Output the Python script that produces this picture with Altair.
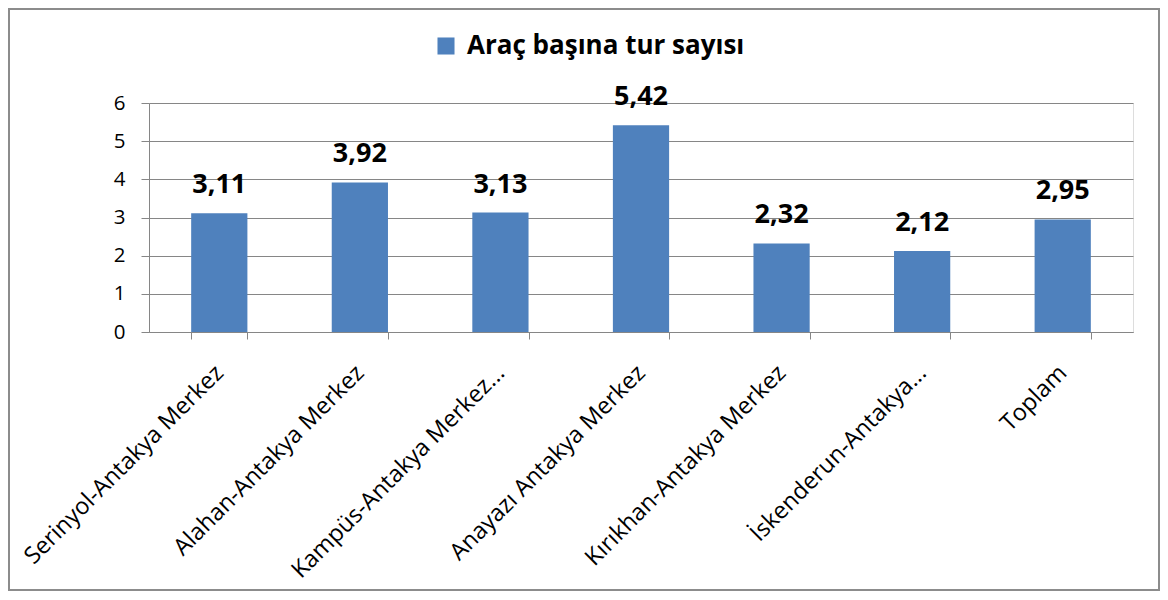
import altair as alt
import pandas as pd

categories = [
    "Serinyol-Antakya Merkez",
    "Alahan-Antakya Merkez",
    "Kampüs-Antakya Merkez...",
    "Anayazı Antakya Merkez",
    "Kırıkhan-Antakya Merkez",
    "İskenderun-Antakya...",
    "Toplam",
]
values = [3.11, 3.92, 3.13, 5.42, 2.32, 2.12, 2.95]
labels = ["3,11", "3,92", "3,13", "5,42", "2,32", "2,12", "2,95"]
series_name = "Araç başına tur sayısı"
y_ticks = [0, 1, 2, 3, 4, 5, 6]

df = pd.DataFrame({"cat": categories, "val": values, "lab": labels, "series": series_name})

FONT = "Open Sans"
W, H = 984, 229
PL, PT, PR, PB = 141, 95, 27, 259

x = alt.X("cat:N", sort=categories, title=None,
          scale=alt.Scale(paddingInner=0.6, paddingOuter=0.3),
          axis=alt.Axis(labelAngle=-45, labelAlign="right", labelBaseline="middle",
                        labelFontSize=23.5, labelColor="black", labelLimit=0,
                        labelPadding=30, tickBand="extent", tickSize=7,
                        tickColor="#868686", domainColor="#868686", grid=False,
                        labelFont=FONT))

bars = alt.Chart(df).mark_bar(color="#4F81BD").encode(
    x=x,
    y=alt.Y("val:Q", title=None,
            scale=alt.Scale(domain=[0, 6], nice=False),
            axis=alt.Axis(values=y_ticks, tickCount=7, labelOverlap=False,
                          labelFontSize=20.5, labelColor="black",
                          tickSize=8, tickColor="#868686", domainColor="#868686",
                          gridColor="#868686", labelPadding=16, labelFont=FONT)),
    color=alt.Color("series:N", title=None,
                    scale=alt.Scale(range=["#4F81BD"]),
                    legend=alt.Legend(orient="none", legendX=284, legendY=-70,
                                      symbolType="square", symbolSize=290,
                                      symbolStrokeWidth=0,
                                      labelFontSize=26, labelFontWeight="bold",
                                      labelColor="black", labelFont=FONT,
                                      labelOffset=8, labelLimit=0)),
)

text = alt.Chart(df).mark_text(fontSize=27, fontWeight="bold", baseline="alphabetic",
                               dy=-20, color="black", font=FONT).encode(
    x=alt.X("cat:N", sort=categories),
    y=alt.Y("val:Q"),
    text="lab:N",
)

frame = alt.Chart(df.head(1)).mark_rect(fill=None, stroke="#8c8c8c", strokeWidth=2).encode(
    x=alt.value(-PL + 1), x2=alt.value(W + PR - 1),
    y=alt.value(-PT + 1), y2=alt.value(H + PB - 1),
)

chart = alt.layer(bars, text, frame).properties(
    width=W, height=H,
    autosize=alt.AutoSizeParams(type="none"),
    padding={"left": PL, "top": PT, "right": PR, "bottom": PB},
).configure_view(stroke=None).configure(background="white")

chart.save("out.html", embed_options={"renderer": "svg", "actions": False})
